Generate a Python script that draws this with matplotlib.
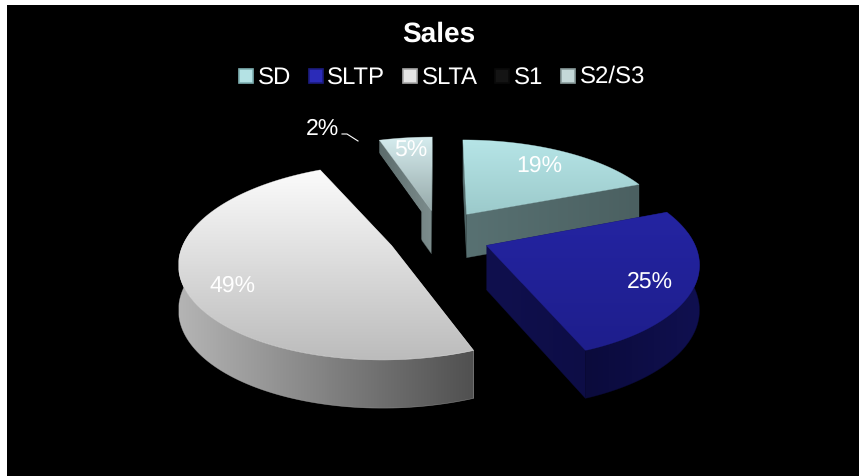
import numpy as np
import matplotlib.pyplot as plt
from matplotlib.colors import LinearSegmentedColormap
from matplotlib.lines import Line2D
from matplotlib.patches import Polygon, Rectangle

plt.rcParams["font.family"] = ["Liberation Sans", "DejaVu Sans"]
plt.rcParams["text.hinting"] = "no_hinting"
plt.rcParams["text.hinting_factor"] = 1

labels = ["SD", "SLTP", "SLTA", "S1", "S2/S3"]
shares = [19, 25, 49, 2, 5]
share_text = ["19%", "25%", "49%", "2%", "5%"]

# look of each slice: top face (start, end), rim, radial face
top_cols = [("#b6e5e7", "#9ccacb"), ("#2424a2", "#1e1e8c"), ("#fbfbfb", "#bcbcbc"),
            ("#000000", "#000000"), ("#d5ecee", "#97aaaa")]
rim_cols = [("#4d6263", "#4d6263"), ("#0b0b3c", "#101050"), ("#b4b4b4", "#505050"),
            ("#000000", "#000000"), ("#5d6e6e", "#586868")]
face_cols = [("#587172", "#4b6061"), ("#10104e", "#0d0d46"), ("#8a8a8a", "#5c5c5c"),
             ("#000000", "#000000"), ("#5c6c6c", "#7c8c8c")]
legend_cols = ["#b4e2e4", "#2b2bb8", "#e4e4e4", "#141414", "#c4d8d8"]
legend_edges = ["#7fb0b2", "#1c1c80", "#a8a8a8", "#0a0a0a", "#8a9c9c"]

# pie geometry in pixels
cx, cy = 439, 236
A, B = 205, 92.4
persp = 0.16
explode_x = 0.248
explode_y = 0.28
depth = 44


def project(x, y):
    s = 1 / (1 + persp * y)
    return cx + A * x * s, cy - B * y * s, s


def gradient_fill(ax, pts, cols, z, vertical=True):
    pts = np.array(pts)
    cmap = LinearSegmentedColormap.from_list("g", cols)
    g = np.linspace(0, 1, 128)
    img = g[:, None] if vertical else g[None, :]
    x0, y0 = pts.min(axis=0)
    x1, y1 = pts.max(axis=0)
    im = ax.imshow(img, cmap=cmap, extent=(x0, x1, y1, y0), aspect="auto", zorder=z,
                   interpolation="bilinear", vmin=0, vmax=1)
    clip = Polygon(pts, closed=True, transform=ax.transData)
    im.set_clip_path(clip)
    # thin edge so the clipped picture does not look jagged
    ax.add_patch(Polygon(pts, closed=True, fill=False, ec=cols[0], lw=0.4, zorder=z, alpha=0.6))


fig = plt.figure(figsize=(8.59, 4.77), dpi=100, facecolor="white")
ax = fig.add_axes([0, 0, 1, 1])
ax.axis("off")
ax.add_patch(Rectangle((7, 6), 852, 471, fc="black", ec="none", zorder=0))

edges = np.concatenate([[0], np.cumsum(shares)]) / sum(shares) * 2 * np.pi
order = [4, 3, 0, 2, 1]
z = 2
for i in order:
    t = np.linspace(edges[i], edges[i + 1], 120)
    mid = (edges[i] + edges[i + 1]) / 2
    ox, oy = explode_x * np.sin(mid), explode_y * np.cos(mid)
    ax_, ay_, s0 = project(ox, oy)
    ex, ey, es = project(ox + np.sin(t), oy + np.cos(t))
    top = list(zip(ex, ey)) + [(ax_, ay_)]
    low = ey + depth * (0.55 + 0.45 * es)
    a_low = ay_ + depth * (0.55 + 0.45 * s0)

    # radial faces, then the part of the rim that faces us, then top
    for k in [0, -1]:
        face = [(ax_, ay_), (ex[k], ey[k]), (ex[k], low[k]), (ax_, a_low)]
        gradient_fill(ax, face, face_cols[i], z, vertical=False)
        z += 1
    front = np.cos(t) < 0.15
    if front.any():
        rim = list(zip(ex[front], ey[front])) + list(zip(ex[front][::-1], low[front][::-1]))
        gradient_fill(ax, rim, rim_cols[i], z, vertical=False)
        z += 1
    gradient_fill(ax, top, top_cols[i], z)
    z += 1

ax.set_xlim(0, 859)
ax.set_ylim(477, 0)

label_pos = [(539, 166), (650, 282), (232, 286), (322, 129), (411, 151)]
for txt, (lx, ly) in zip(share_text, label_pos):
    ax.text(lx, ly, txt, color="white", fontsize=16.8, ha="center", va="center", zorder=200)
ax.plot([342, 347, 358], [135, 135, 142], color="white", lw=0.8, zorder=200)

ax.text(439, 34, "Sales", color="white", fontsize=20.4, fontweight="bold",
        ha="center", va="center", zorder=200)

handles = [Line2D([], [], ls="none", marker="s", ms=10.5, mfc=c, mec=e, mew=1.2)
           for c, e in zip(legend_cols, legend_edges)]
leg = ax.legend(handles, labels, loc="center", bbox_to_anchor=(438.5 / 859, 1 - 79 / 477), ncol=5,
                frameon=False, fontsize=17, labelcolor="white", handletextpad=-0.1,
                columnspacing=0.44, handlelength=1.2, borderpad=0)
leg.set_zorder(200)
# the slash makes this entry sit lower than the others
leg.get_texts()[4].set_y(2)

fig.savefig("out.png", dpi=100, facecolor="white")
